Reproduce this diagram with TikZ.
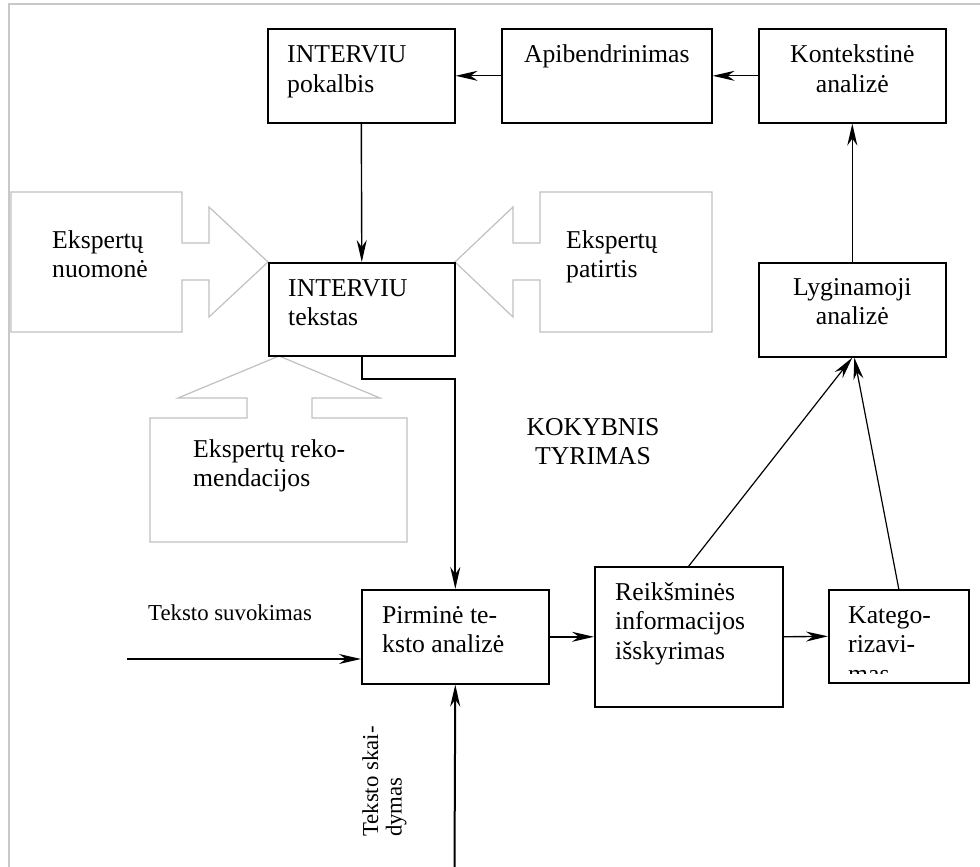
\documentclass[tikz,border=0pt]{standalone}
\usepackage{fontspec}
\setmainfont{Liberation Serif}
\usetikzlibrary{arrows.meta,calc}

% stacked lines whose baseline is the first line
\newcommand\linesL[1]{\begin{tabular}[t]{@{}l@{}}#1\end{tabular}}
\newcommand\linesC[1]{\begin{tabular}[t]{@{}c@{}}#1\end{tabular}}
\newcommand\bigtext{\fontsize{25.7}{29.5}\selectfont}
\newcommand\smalltext{\fontsize{22.8}{23.5}\selectfont}

\definecolor{framegrey}{HTML}{C8C8C8}
\definecolor{blockgrey}{HTML}{C0C0C0}

\begin{document}
\begin{tikzpicture}[x=1pt,y=-1pt,
  box/.style={draw,line width=1.6pt,inner sep=0,anchor=north west},
  lbl/.style={inner sep=0,font=\bigtext},
  slbl/.style={inner sep=0,font=\smalltext},
  tip/.style={-{Stealth[length=22pt,width=10pt,inset=7pt]}},
  flow/.style={tip,line width=1.4pt},
  thick flow/.style={tip,line width=2pt},
  thin flow/.style={tip,line width=1.2pt},
  block/.style={draw=blockgrey,line width=1.2pt,line join=miter}
]
\useasboundingbox (0,0) rectangle (980,867);

% outer frame (top and left edges)
\draw[framegrey,line width=1.5pt] (9,867) -- (9,4) -- (980,4);

% grey block arrows
\draw[block] (11,192) -- (182,192) -- (182,243) -- (209,243) -- (209,207)
  -- (268,262) -- (209,317) -- (209,280) -- (182,280) -- (182,332)
  -- (11,332) -- cycle;
\draw[block] (712,192) -- (540,192) -- (540,243) -- (513,243) -- (513,207)
  -- (455,262) -- (513,317) -- (513,280) -- (540,280) -- (540,332)
  -- (712,332) -- cycle;
\draw[block] (279,356) -- (380,398) -- (312,398) -- (312,418) -- (407,418)
  -- (407,542) -- (150,542) -- (150,418) -- (247,418) -- (247,398)
  -- (178,398) -- cycle;

\node[lbl,anchor=base west] (nuomone) at (52,248) {\linesL{Ekspertų\\nuomonė}};
\node[lbl,anchor=base west] (patirtis) at (566,248) {\linesL{Ekspertų\\patirtis}};
\node[lbl,anchor=base west] (rekom) at (193,457) {\linesL{Ekspertų reko-\\mendacijos}};

% process boxes
\node[box,minimum width=187pt,minimum height=94pt] (ip) at (267,28) {};
\node[box,minimum width=210pt,minimum height=94pt] (ap) at (501,28) {};
\node[box,minimum width=187pt,minimum height=94pt] (ka) at (758,28) {};
\node[box,minimum width=186pt,minimum height=93pt] (it) at (268,262) {};
\node[box,minimum width=187pt,minimum height=94pt] (ly) at (758,262) {};
\node[box,minimum width=187pt,minimum height=94pt] (pi) at (361,589) {};
\node[box,minimum width=188pt,minimum height=140pt] (re) at (594,566) {};
\node[box,minimum width=140pt,minimum height=93pt] (kt) at (828,589) {};

% box texts
\node[lbl,anchor=base west] (ipT) at ($(ip.north west)+(20,35)$) {\linesL{INTERVIU\\pokalbis}};
\node[lbl,anchor=base] (apT) at ($(ap.north)+(0,35)$) {\linesC{Apibendrinimas}};
\node[lbl,anchor=base] (kaT) at ($(ka.north)+(0,35)$) {\linesC{Kontekstinė\\analizė}};
\node[lbl,anchor=base west] (itT) at ($(it.north west)+(20,34)$) {\linesL{INTERVIU\\tekstas}};
\node[lbl,anchor=base] (lyT) at ($(ly.north)+(0,33)$) {\linesC{Lyginamoji\\analizė}};
\node[lbl,anchor=base west] (piT) at ($(pi.north west)+(21,34)$) {\linesL{Pirminė te-\\ksto analizė}};
\node[lbl,anchor=base west] (reT) at ($(re.north west)+(21,34)$) {\linesL{Reikšminės\\informacijos\\išskyrimas}};
\begin{scope}
  \clip (828,589) rectangle (968,673);
  \node[lbl,anchor=base west] (ktT) at ($(kt.north west)+(20,34)$) {\linesL{Katego-\\rizavi-\\mas}};
\end{scope}

\node[lbl,anchor=base] (kokyb) at (593,435) {\linesC{KOKYBNIS\\TYRIMAS}};

% connectors
\draw[flow] (ka.west) -- (ap.east);
\draw[flow] (ap.west) -- (ip.east);
\draw[flow] (ip.south) -- (it.north);
\draw[flow] (ly.north) -- (ka.south);
\draw[thick flow] (it.south) -- ++(0,22) -| (pi.north);
\draw[flow] (pi.east) -- (re.west);
\draw[flow] (re.east) -- (kt.west);
\draw[thin flow] (re.north) -- (ly.south);
\draw[thin flow] (kt.north) -- ($(ly.south)+(2,0)$);

% inputs to the primary analysis
\coordinate (suvIn) at (127,659);
\draw[thick flow] (suvIn) -- (suvIn -| pi.west);
\node[slbl,anchor=base west] (suvT) at (148,620) {Teksto suvokimas};

\coordinate (skaIn) at (454.5,867);
\draw[thick flow] (skaIn) -- (pi.south);
\node[slbl,anchor=base west,rotate=90] (skaT) at (378,837) {\linesL{Teksto skai-\\dymas}};
\end{tikzpicture}
\end{document}
